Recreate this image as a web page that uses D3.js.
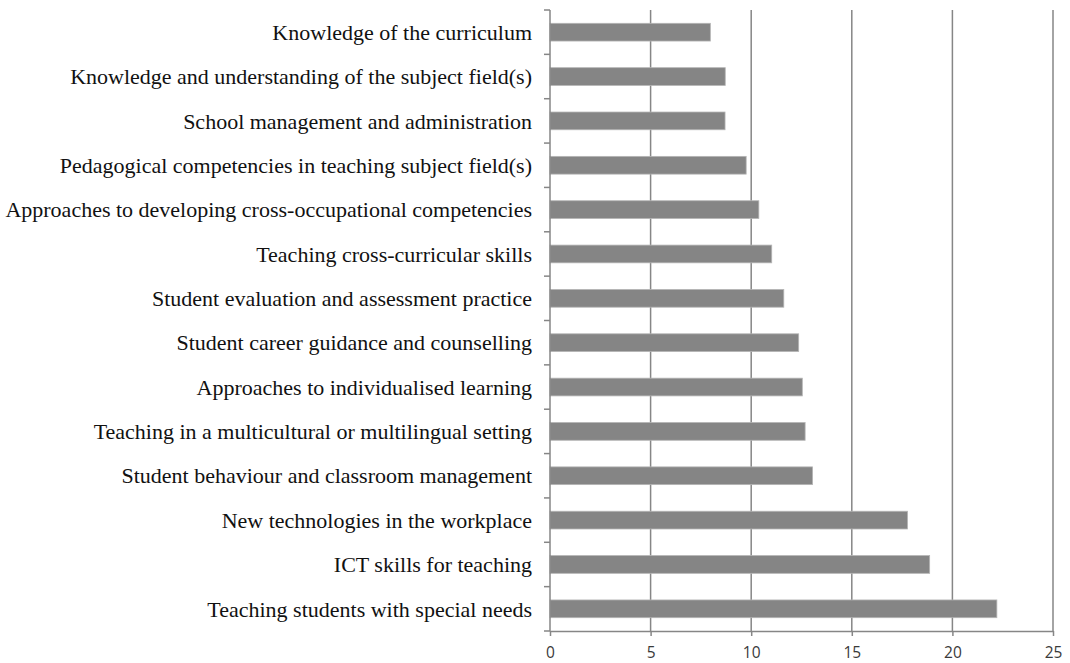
<!DOCTYPE html>
<html><head><meta charset="utf-8">
<script src="https://cdn.jsdelivr.net/npm/d3@7"></script>
<style>body{margin:0;background:#fff}</style>
</head><body>
<svg id="c" width="1070" height="663"></svg>
<script>
const categories = [
  "Knowledge of the curriculum",
  "Knowledge and understanding of the subject field(s)",
  "School management and administration",
  "Pedagogical competencies in teaching subject field(s)",
  "Approaches to developing cross-occupational competencies",
  "Teaching cross-curricular skills",
  "Student evaluation and assessment practice",
  "Student career guidance and counselling",
  "Approaches to individualised learning",
  "Teaching in a multicultural or multilingual setting",
  "Student behaviour and classroom management",
  "New technologies in the workplace",
  "ICT skills for teaching",
  "Teaching students with special needs"
];
const values = [7.97, 8.71, 8.7, 9.75, 10.38, 11.02, 11.62, 12.36, 12.54, 12.68, 13.05, 17.77, 18.87, 22.21];
const xTicks = [0, 5, 10, 15, 20, 25];

(function () {
const svg = d3.select("#c");
const mLeft = 550, mRight = 1053, mTop = 10, mBottom = 631;
const x = d3.scaleLinear().domain([0, 25]).range([mLeft, mRight]);
const y = d3.scaleBand().domain(categories).range([mTop, mBottom]).paddingInner(0.6).paddingOuter(0.3);
const band = d3.scaleBand().domain(categories).range([mTop, mBottom]);

// gridlines
svg.append("g").selectAll("line").data(xTicks.slice(1)).join("line")
  .attr("x1", d => x(d)).attr("x2", d => x(d))
  .attr("y1", mTop).attr("y2", mBottom)
  .attr("stroke", "#868686").attr("stroke-width", 1.5);

// bars
svg.append("g").selectAll("rect").data(values).join("rect")
  .attr("x", x(0)).attr("y", (d, i) => y(categories[i]))
  .attr("width", d => x(d) - x(0)).attr("height", y.bandwidth())
  .attr("fill", "#858585").attr("stroke", "#b5b5b5").attr("stroke-width", 0.8);

// y axis line + ticks at band boundaries
const yb = [...categories.map(c => band(c)), mBottom];
svg.append("line").attr("x1", mLeft).attr("x2", mLeft).attr("y1", mTop).attr("y2", mBottom)
  .attr("stroke", "#868686").attr("stroke-width", 1.5);
svg.append("g").selectAll("line").data(yb).join("line")
  .attr("x1", mLeft - 6).attr("x2", mLeft).attr("y1", d => d).attr("y2", d => d)
  .attr("stroke", "#868686").attr("stroke-width", 1.5);

// category labels
svg.append("g").selectAll("text").data(categories).join("text")
  .attr("x", 532).attr("y", d => band(d) + band.bandwidth() / 2)
  .attr("dy", "0.35em").attr("text-anchor", "end")
  .attr("font-family", "'Liberation Serif', 'Times New Roman', serif")
  .attr("font-size", 22).attr("fill", "#111").text(d => d);

// x axis
const xAxis = d3.axisBottom(x).tickValues(xTicks).tickSize(5).tickSizeOuter(0).tickPadding(11);
const gx = svg.append("g").attr("transform", `translate(0,${mBottom})`).call(xAxis);
gx.select(".domain").attr("stroke", "#868686").attr("stroke-width", 1.5);
gx.selectAll(".tick line").attr("stroke", "#868686").attr("stroke-width", 1.5);
gx.selectAll(".tick text").attr("font-family", "'Open Sans', 'Liberation Sans', sans-serif")
  .attr("font-size", 15.5).attr("fill", "#3a3a3a");
})();
</script>
</body></html>
